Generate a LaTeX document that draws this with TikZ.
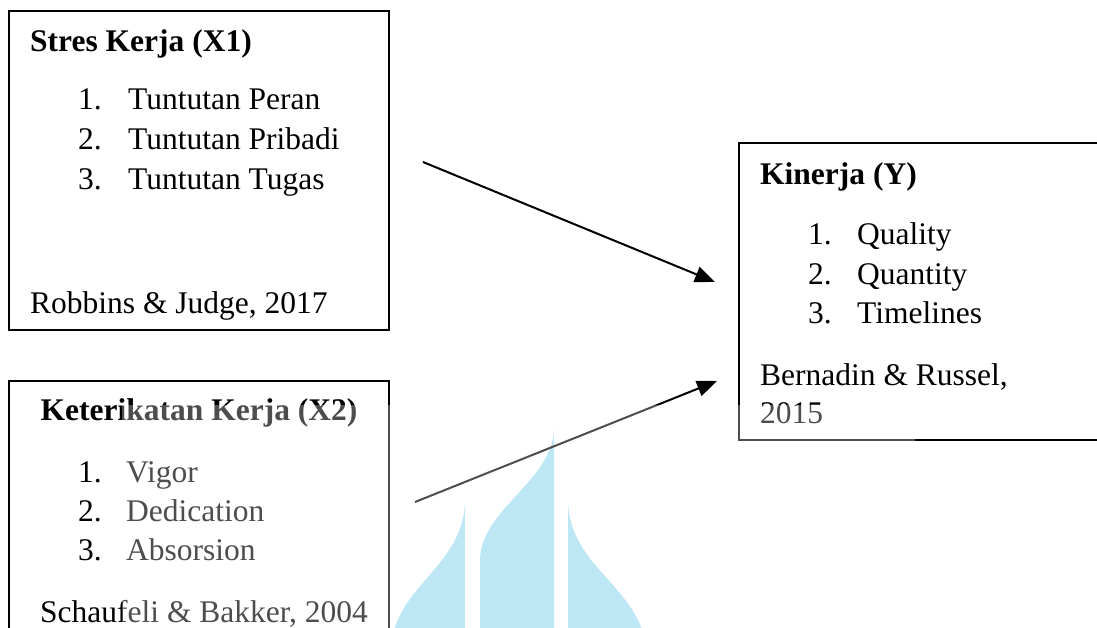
\documentclass[tikz,border=0pt]{standalone}
\usepackage{fontspec}
\setmainfont{Liberation Serif}
\usetikzlibrary{arrows.meta}
\definecolor{logoblue}{RGB}{162,221,243}
\begin{document}
\begin{tikzpicture}[x=1pt,y=-1pt,every node/.style={font=\fontsize{31.5}{40}\selectfont,inner sep=0pt,anchor=base west},box/.style={draw,line width=2pt,minimum width=380pt,inner sep=0pt,anchor=center},head/.style={font=\fontsize{31.5}{40}\selectfont\bfseries},arr/.style={line width=2pt,-{Triangle[length=20pt,width=16pt]}}]
\useasboundingbox (0,0) rectangle (1097,628);
\clip (0,0) rectangle (1097,628);
% watermark
\fill[logoblue] (554,428) -- (554,640) -- (480,640) -- (480,560) .. controls (480,510) and (554,480) .. (554,428);
\fill[logoblue] (465,503) -- (465,640) -- (392,640) .. controls (400,585) and (462,565) .. (465,503);
\fill[logoblue] (568,503) .. controls (571,565) and (633,585) .. (645,640) -- (568,640) -- cycle;
% boxes
\node[box,minimum height=319pt] (str) at (199,170.5) {};
\node[box,minimum height=339pt] (ket) at (199,550.5) {};
\node[box,minimum width=391pt,minimum height=297pt] (kin) at (934.5,291.5) {};
% Stres Kerja
\node[head] (strh) at (30,52) {Stres Kerja (X1)};
\node (str1) at (78,110) {\makebox[50pt][l]{1.}Tuntutan Peran};
\node (str2) at (78,150) {\makebox[50pt][l]{2.}Tuntutan Pribadi};
\node (str3) at (78,190) {\makebox[50pt][l]{3.}Tuntutan Tugas};
\node (strs) at (30,313) {Robbins \& Judge, 2017};
% Keterikatan Kerja
\node[head,anchor=base] (keth) at (199,420) {Keterikatan Kerja (X2)};
\node (ket1) at (78,482) {\makebox[48pt][l]{1.}Vigor};
\node (ket2) at (78,521) {\makebox[48pt][l]{2.}Dedication};
\node (ket3) at (78,560) {\makebox[48pt][l]{3.}Absorsion};
\node (kets) at (40,622) {Schaufeli \& Bakker, 2004};
% Kinerja
\node[head] (kinh) at (760,185) {Kinerja (Y)};
\node (kin1) at (808,245) {\makebox[49pt][l]{1.}Quality};
\node (kin2) at (808,284) {\makebox[49pt][l]{2.}Quantity};
\node (kin3) at (808,323) {\makebox[49pt][l]{3.}Timelines};
\node (kins) at (760,385) {Bernadin \& Russel,};
\node (kins2) at (760,423) {2015};
% arrows
\coordinate (a1) at (423,162);
\coordinate (b1) at (715,282);
\coordinate (a2) at (415,502);
\coordinate (b2) at (717,381);
\draw[arr] (a1) -- (b1);
\draw[arr] (a2) -- (b2);
\fill[white,opacity=0.3] (122,405) rectangle (915,640);
\end{tikzpicture}
\end{document}
